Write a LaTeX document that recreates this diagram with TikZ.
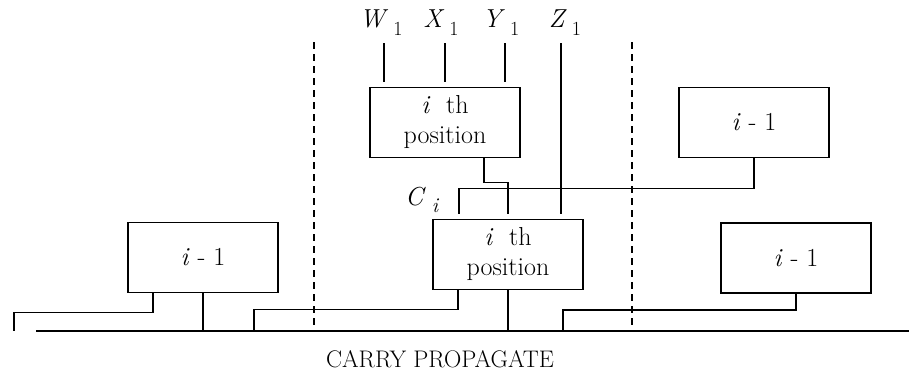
\documentclass[tikz,border=0pt]{standalone}
\usepackage{fontspec}
\setmainfont{Latin Modern Roman}
\usetikzlibrary{calc}
\newcommand{\subone}[1]{\textit{#1}\hspace{5pt}\raisebox{-8pt}{\fontsize{20}{20}\selectfont 1}}
\begin{document}
\begin{tikzpicture}[x=1pt,y=-1pt,
  blk/.style={draw,line width=1.6pt,minimum width=150pt,minimum height=70pt,inner sep=0pt,align=center,
    font=\fontsize{26}{30}\selectfont},
  wire/.style={line width=1.4pt},
  gapwire/.style={wire,shorten >=5pt},
  bus/.style={line width=2.2pt},
  sep/.style={line width=1.3pt,dash pattern=on 7pt off 5pt},
  lbl/.style={font=\fontsize{26}{28}\selectfont,inner sep=0pt,anchor=base}]
\useasboundingbox (0,0) rectangle (909,373);

% boxes
\node[blk] (T)  at (445,122.5) {\textit{i}\ \ th\\position};
\node[blk] (R1) at (754,122.5) {\textit{i} - 1};
\node[blk] (B)  at (508,254.5) {\textit{i}\ \ th\\position};
\node[blk] (L)  at (203,257.5) {\textit{i} - 1};
\node[blk] (R2) at (796,258)   {\textit{i} - 1};

% separators
\coordinate (s1t) at (314,42); \coordinate (s1b) at (314,325);
\coordinate (s2t) at (632,42); \coordinate (s2b) at (632,325);
\draw[sep] (s1t) -- (s1b);
\draw[sep] (s2t) -- (s2b);

% inputs
\coordinate (w) at (384,43);
\coordinate (x) at (445,43);
\coordinate (y) at (505,43);
\coordinate (z) at (561,43);
\node[lbl] (Wl) at (381,27) {\subone{W}};
\node[lbl] (Xl) at (441,27) {\subone{X}};
\node[lbl] (Yl) at (501,27) {\subone{Y}};
\node[lbl] (Zl) at (565,27) {\subone{Z}};
\draw[gapwire] (w) -- (w |- T.north);
\draw[gapwire] (x) -- (x |- T.north);
\draw[gapwire] (y) -- (y |- T.north);
\draw[gapwire] (z) -- (z |- B.north);

% top box to bottom box
\draw[wire] ([xshift=39pt]T.south) -- ++(0,24) -| ([yshift=5pt]B.north);
% carry from right i-1
\draw[wire] (R1.south) -- ++(0,30) -| ([xshift=-49pt,yshift=5pt]B.north);
\node[lbl,anchor=base west] (Ci) at (405,205) {\textit{C}\hspace{6pt}\raisebox{-7pt}{\fontsize{21}{21}\selectfont\textit{i}}};

% bus
\coordinate (busL) at (36,331);
\coordinate (busR) at (909,331);
\draw[bus] (busL) -- (busR);
\coordinate (c0) at (14,331);
\coordinate (c1) at (254,330);
\coordinate (c2) at (563,331);

\draw[wire] ([xshift=-50pt]L.south) -- ++(0,19) -| (c0);
\draw[wire] (L.south) -- (L.south |- busL);
\draw[wire] ([xshift=-50pt]B.south) -- ++(0,19) -| (c1);
\draw[wire] (B.south) -- (B.south |- busL);
\draw[wire] (R2.south) -- ++(0,16) -| (c2);

\node[font=\fontsize{24}{26}\selectfont,inner sep=0pt] (cp) at (440,359) {CARRY PROPAGATE};
\end{tikzpicture}
\end{document}
